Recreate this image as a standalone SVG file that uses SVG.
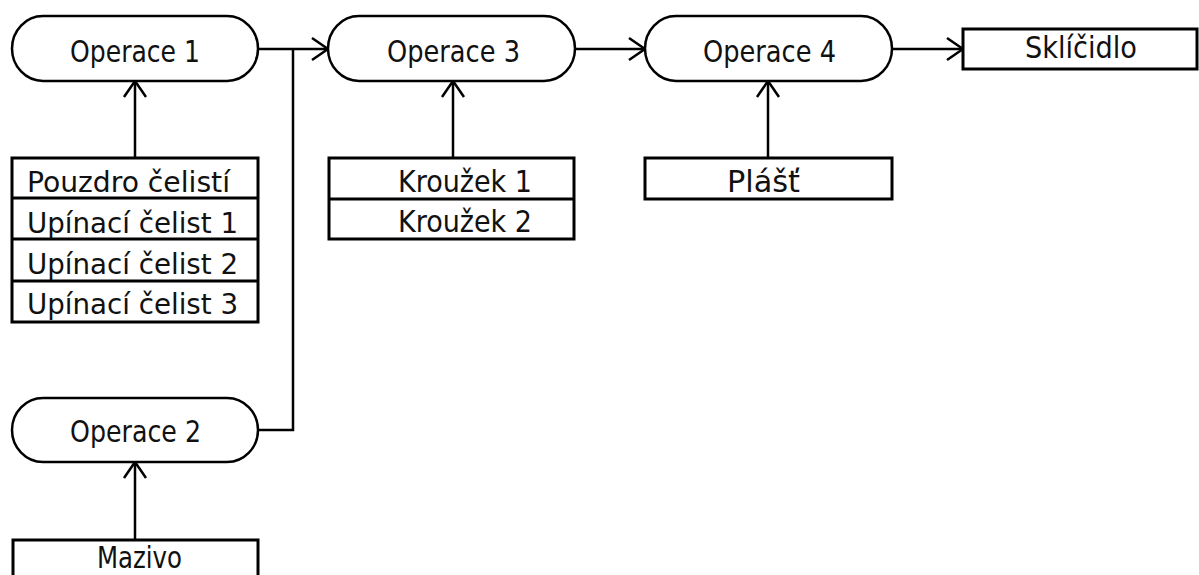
<svg xmlns="http://www.w3.org/2000/svg" width="1199" height="575" viewBox="0 0 1199 575">
  <style>
    .op { fill: #fff; stroke: #000; stroke-width: 2.5; }
    .box { fill: #fff; stroke: #000; stroke-width: 3; }
    .wire { fill: none; stroke: #000; stroke-width: 2.5; }
    text { font-family: "DejaVu Sans Condensed", "DejaVu Sans", "Liberation Sans", sans-serif; font-stretch: condensed; font-size: 30px; fill: #111; }
    .small { font-size: 28px; }
  </style>
  <defs>
    <marker id="open" markerUnits="userSpaceOnUse" markerWidth="30" markerHeight="30" viewBox="-20 -15 30 30" refX="0" refY="0" orient="auto">
      <path d="M-16,-11 L0,0 L-16,11" fill="none" stroke="#000" stroke-width="2.5"/>
    </marker>
  </defs>
  <rect width="1199" height="575" fill="#fff"/>

  <g id="connectors">
    <line class="wire" x1="258" y1="49" x2="328" y2="49" marker-end="url(#open)"/>
    <polyline class="wire" points="258,430 293,430 293,49"/>
    <line class="wire" x1="575" y1="49" x2="645" y2="49" marker-end="url(#open)"/>
    <line class="wire" x1="892" y1="49" x2="963" y2="49" marker-end="url(#open)"/>
    <line class="wire" x1="135" y1="158" x2="135" y2="81" marker-end="url(#open)"/>
    <line class="wire" x1="453" y1="158" x2="453" y2="81" marker-end="url(#open)"/>
    <line class="wire" x1="768" y1="158" x2="768" y2="81" marker-end="url(#open)"/>
    <line class="wire" x1="135" y1="540" x2="135" y2="462" marker-end="url(#open)"/>
  </g>

  <g id="operace1">
    <rect class="op" x="12" y="16" width="246" height="65" rx="31" ry="32.5"/>
    <text x="70" y="62" textLength="130" lengthAdjust="spacingAndGlyphs">Operace 1</text>
  </g>
  <g id="operace3">
    <rect class="op" x="328" y="16" width="247" height="65" rx="31" ry="32.5"/>
    <text x="387" y="62" textLength="133" lengthAdjust="spacingAndGlyphs">Operace 3</text>
  </g>
  <g id="operace4">
    <rect class="op" x="645" y="16" width="247" height="65" rx="31" ry="32.5"/>
    <text x="703" y="62" textLength="133" lengthAdjust="spacingAndGlyphs">Operace 4</text>
  </g>
  <g id="operace2">
    <rect class="op" x="12" y="398" width="246" height="64" rx="31" ry="32"/>
    <text x="70" y="442" textLength="131" lengthAdjust="spacingAndGlyphs">Operace 2</text>
  </g>

  <g id="sklicidlo">
    <rect class="box" x="963" y="29" width="234" height="40"/>
    <text x="1025" y="58" textLength="112" lengthAdjust="spacingAndGlyphs">Sklíčidlo</text>
  </g>

  <g id="celisti">
    <rect class="box" x="12" y="158" width="246" height="164"/>
    <line class="box" x1="12" y1="198" x2="258" y2="198"/>
    <line class="box" x1="12" y1="239" x2="258" y2="239"/>
    <line class="box" x1="12" y1="281" x2="258" y2="281"/>
    <text class="small" x="27" y="192" textLength="203" lengthAdjust="spacingAndGlyphs">Pouzdro čelistí</text>
    <text class="small" x="27" y="233" textLength="211" lengthAdjust="spacingAndGlyphs">Upínací čelist 1</text>
    <text class="small" x="27" y="274" textLength="211" lengthAdjust="spacingAndGlyphs">Upínací čelist 2</text>
    <text class="small" x="27" y="314" textLength="211" lengthAdjust="spacingAndGlyphs">Upínací čelist 3</text>
  </g>

  <g id="krouzky">
    <rect class="box" x="329" y="158" width="245" height="81"/>
    <line class="box" x1="329" y1="199" x2="574" y2="199"/>
    <text x="398" y="192" textLength="134" lengthAdjust="spacingAndGlyphs">Kroužek 1</text>
    <text x="398" y="232" textLength="134" lengthAdjust="spacingAndGlyphs">Kroužek 2</text>
  </g>

  <g id="plast">
    <rect class="box" x="645" y="158" width="247" height="41"/>
    <text x="727" y="192" textLength="73" lengthAdjust="spacingAndGlyphs">Plášť</text>
  </g>

  <g id="mazivo">
    <rect class="box" x="13" y="540" width="245" height="60"/>
    <text x="97" y="568" textLength="85" lengthAdjust="spacingAndGlyphs">Mazivo</text>
  </g>
</svg>
